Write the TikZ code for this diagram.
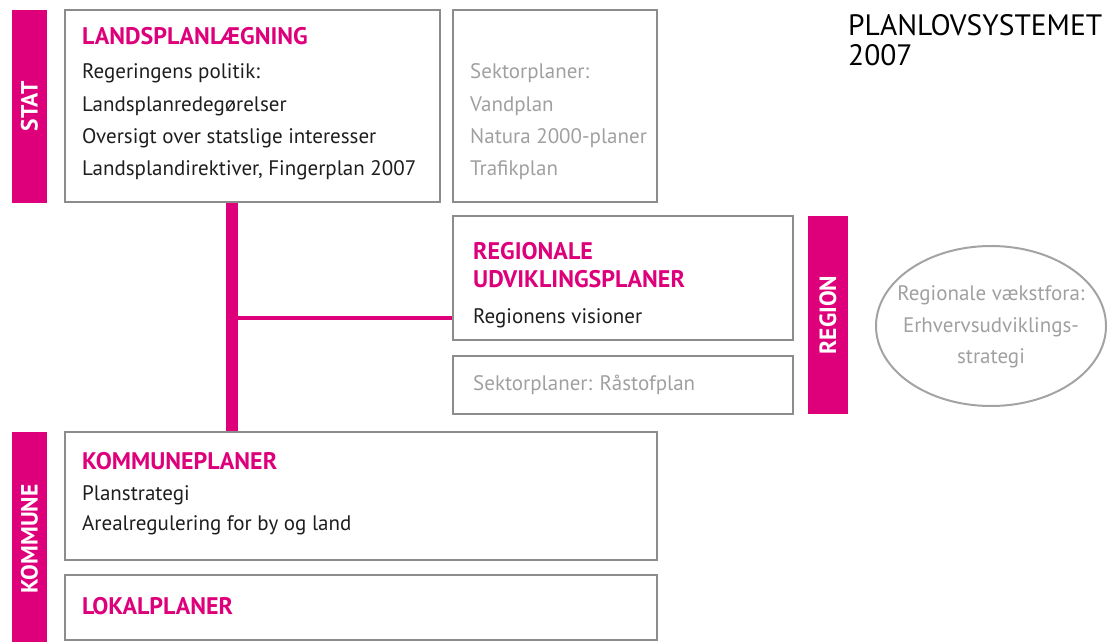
\documentclass[tikz,border=0pt]{standalone}
\usepackage{fontspec}
\setmainfont{PT Sans}
\usetikzlibrary{positioning}
\usetikzlibrary{shapes}

\definecolor{planpink}{RGB}{222,0,122}
\definecolor{framegray}{RGB}{140,140,140}
\definecolor{textdark}{RGB}{30,30,30}
\definecolor{textlight}{RGB}{160,160,160}

\tikzset{
  planbox/.style={draw=framegray, line width=2.5pt, rectangle, inner sep=0pt},
  levelbar/.style={fill=planpink, rotate=90, inner sep=0pt, text=white, font=\fontsize{23.5}{23.5}\selectfont\bfseries},
  plantitle/.style={anchor=base west, inner sep=0pt, text=planpink, font=\fontsize{24}{24}\selectfont\bfseries},
  plantext/.style={anchor=base west, inner sep=0pt, text=textdark, font=\fontsize{21}{21}\selectfont},
  sectortext/.style={plantext, text=textlight},
  growthtext/.style={anchor=base, inner sep=0pt, text=textlight, font=\fontsize{21}{21}\selectfont},
}

\begin{document}
\begin{tikzpicture}[x=1pt,y=-1pt]
\useasboundingbox (0,0) rectangle (1109,642);
%level bars
\node[levelbar, minimum width=193pt, minimum height=35pt] (stat) at (29.5,106.5) {STAT};
\node[levelbar, minimum width=198pt, minimum height=40pt] (region) at (828,315) {REGION};
\node[levelbar, minimum width=214pt, minimum height=35pt] (kommune) at (29.5,539) {KOMMUNE};
%boxes
\node[planbox, minimum width=375pt, minimum height=192pt] (landsplan) at (252.5,106) {};
\node[planbox, minimum width=204pt, minimum height=192pt] (sektor) at (555,106) {};
\node[planbox, minimum width=340pt, minimum height=124pt] (regional) at (623,278) {};
\node[planbox, minimum width=340pt, minimum height=58pt] (raastof) at (623,385) {};
\node[planbox, minimum width=592pt, minimum height=128pt] (kommuneplan) at (361,496) {};
\node[planbox, minimum width=592pt, minimum height=65pt] (lokalplan) at (361,607.5) {};
\node[draw=framegray!80, line width=2pt, ellipse, minimum width=230pt, minimum height=160pt] (vaekst) at (991,326) {};
%connectors
\coordinate (trunk) at (232,318);
\draw[planpink, line width=12pt] (trunk |- landsplan.south) -- (trunk |- kommuneplan.north);
\draw[planpink, line width=4pt] (trunk) -- (trunk -| regional.west);
%heading
\node[anchor=base west, inner sep=0pt, font=\fontsize{29.5}{29.5}\selectfont] (heading) at (848,36) {PLANLOVSYSTEMET};
\node[anchor=base west, inner sep=0pt, font=\fontsize{29.5}{29.5}\selectfont] (year) at (848,66) {2007};
%stat texts
\node[plantitle] (landsplantitle) at (82,45) {LANDSPLANLÆGNING};
\node[plantext] (politik) at (82,79) {Regeringens politik:};
\node[plantext] (redegoerelser) at (82,111) {Landsplanredegørelser};
\node[plantext] (interesser) at (82,143) {Oversigt over statslige interesser};
\node[plantext] (direktiver) at (82,175) {Landsplandirektiver, Fingerplan 2007};
\node[sectortext] (sektortitle) at (470,79) {Sektorplaner:};
\node[sectortext] (vandplan) at (470,111) {Vandplan};
\node[sectortext] (natura) at (470,143) {Natura 2000-planer};
\node[sectortext] (trafikplan) at (470,175) {Trafikplan};
%region texts
\node[plantitle] (regionaltitle) at (473,259) {REGIONALE};
\node[plantitle] (udvikling) at (473,287) {UDVIKLINGSPLANER};
\node[plantext] (visioner) at (473,323) {Regionens visioner};
\node[sectortext] (raastoftext) at (473,390) {Sektorplaner: Råstofplan};
\node[growthtext] (vaekstfora) at (991,300) {Regionale vækstfora:};
\node[growthtext] (erhverv) at (991,332) {Erhvervsudviklings-};
\node[growthtext] (strategi) at (991,363) {strategi};
%kommune texts
\node[plantitle] (kommunetitle) at (82,469) {KOMMUNEPLANER};
\node[plantext] (planstrategi) at (82,500) {Planstrategi};
\node[plantext] (areal) at (82,530) {Arealregulering for by og land};
\node[plantitle] (lokaltitle) at (82,614) {LOKALPLANER};
\end{tikzpicture}
\end{document}
